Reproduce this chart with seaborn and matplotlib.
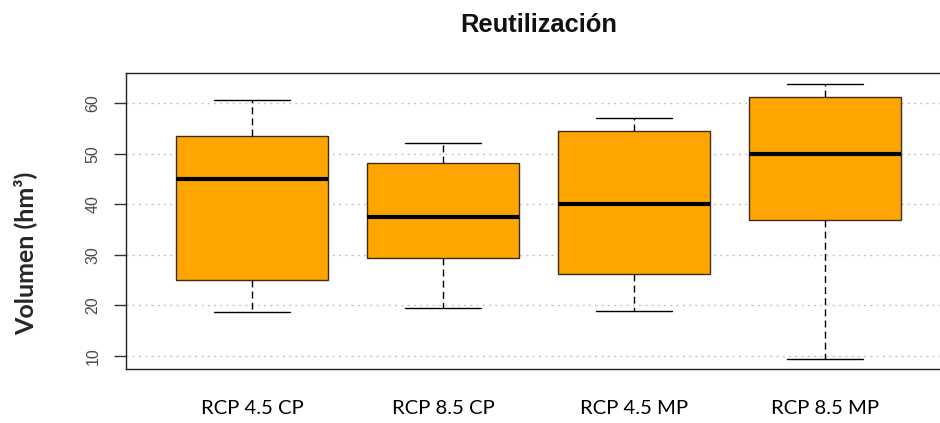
import numpy as np
import pandas as pd
import matplotlib.pyplot as plt
import seaborn as sns

# scenarios and five-number summaries (min, Q1, median, Q3, max)
scenarios = ["RCP 4.5 CP", "RCP 8.5 CP", "RCP 4.5 MP", "RCP 8.5 MP"]
rcp45_cp = [18.6, 25.0, 44.9, 53.5, 60.6]
rcp85_cp = [19.5, 29.4, 37.4, 48.1, 52.2]
rcp45_mp = [18.9, 26.2, 40.0, 54.4, 57.0]
rcp85_mp = [9.4, 36.8, 49.9, 61.3, 63.8]
yticks = [10, 20, 30, 40, 50, 60]

df = pd.DataFrame({
    "escenario": np.repeat(scenarios, 5),
    "volumen": np.concatenate([rcp45_cp, rcp85_cp, rcp45_mp, rcp85_mp]),
})

sns.set_style("white")

fig = plt.figure(figsize=(9.4, 4.23), dpi=100)
ax = fig.add_axes([126 / 940, 1 - 369 / 423, 825 / 940, 295.7 / 423])

sns.boxplot(data=df, x="escenario", y="volumen", ax=ax,
            color="#FFA500", saturation=1, width=0.8, whis=(0, 100),
            linewidth=1, linecolor="#3d2b1f",
            medianprops=dict(color="black", linewidth=3, solid_capstyle="butt"),
            whiskerprops=dict(color="black", linestyle=(0, (5, 3))),
            capprops=dict(color="black"))

ax.yaxis.grid(True, color="#c4c4c4", linestyle=(0, (1.5, 3)), linewidth=1)
ax.set_axisbelow(True)

ax.set_xlim(-0.66, 3.66)
ax.set_ylim(7.37, 65.9)
ax.set_yticks(yticks)
ax.set_yticklabels([str(v) for v in yticks], rotation=90, va="center",
                   family="Liberation Sans", fontsize=11.5, color="#4a4a4a")
ax.tick_params(axis="y", left=True, length=9, width=1, color="#333333", pad=9.5)
ax.tick_params(axis="x", length=0, pad=22)
for lab in ax.get_xticklabels():
    lab.set_family("Lato")
    lab.set_fontsize(14.6)
    lab.set_color("black")

for s in ax.spines.values():
    s.set_color("#222222")
    s.set_linewidth(1)

ax.set_xlabel("")
ax.set_ylabel("Volumen (hm³)", family="Lato", fontweight="bold", fontsize=18, va="center")
ax.yaxis.set_label_coords(-0.1218, 0.392)

# title centred over the plot box
fig.text((126 + 951) / 2 / 940, 1 - 31.7 / 423, "Reutilización",
         family="Liberation Sans", fontweight="bold", fontsize=18.4,
         ha="center", va="baseline", color="#111111")

fig.savefig("out.png", dpi=100)
